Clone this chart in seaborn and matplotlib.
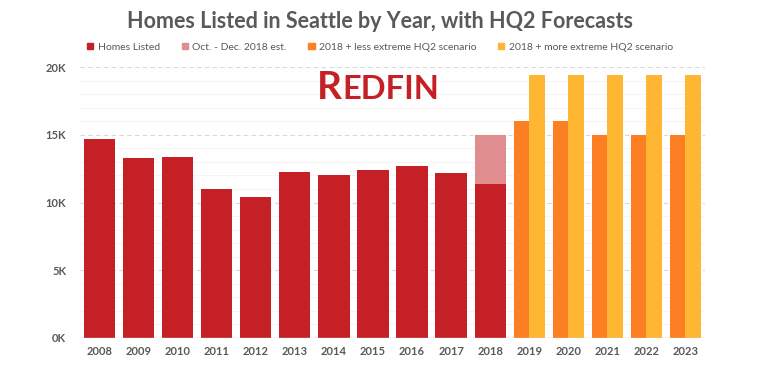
import pandas as pd
import seaborn as sns
import matplotlib.pyplot as plt
from matplotlib.patches import Patch
from matplotlib.ticker import MultipleLocator, FuncFormatter

# values
years = [str(y) for y in range(2008, 2024)]
hist_years = years[:11]
homes_listed = [14700, 13250, 13330, 10970, 10400, 12230, 12000, 12370, 12690, 12180, 11340]
est_year = ["2018"]
est_2018 = [15000]
fc_years = years[11:]
less_extreme = [16000, 16000, 15000, 15000, 15000]
more_extreme = [19400, 19400, 19400, 19400, 19400]

red = "#C52026"
pink = "#E08D8F"
orange = "#FC7F24"
yellow = "#FFB733"
gray = "#595959"

labels = ["Homes Listed", "Oct. - Dec. 2018 est.",
          "2018 + less extreme HQ2 scenario", "2018 + more extreme HQ2 scenario"]

fc = pd.DataFrame({
    "year": fc_years * 2,
    "value": less_extreme + more_extreme,
    "scenario": [labels[2]] * len(fc_years) + [labels[3]] * len(fc_years),
})

sns.set_theme(style="white")
plt.rcParams["font.family"] = ["Lato", "DejaVu Sans"]

fig = plt.figure(figsize=(7.68, 3.71), dpi=100)
ax = fig.add_axes([80 / 768, 1 - 338 / 371, 625 / 768, 271 / 371])

# grid first so bars sit on top
ax.set_axisbelow(True)
ax.yaxis.set_major_locator(MultipleLocator(5000))
ax.yaxis.set_minor_locator(MultipleLocator(1000))
ax.grid(which="major", axis="y", color="#D9D9D9", linestyle=(0, (4, 3)), linewidth=0.8)
ax.grid(which="minor", axis="y", color="#F3F3F3", linestyle="-", linewidth=0.6)

sns.barplot(x=est_year, y=est_2018, order=years, color=pink, width=0.8,
            saturation=1, errorbar=None, linewidth=0, ax=ax)
sns.barplot(x=hist_years, y=homes_listed, order=years, color=red, width=0.8,
            saturation=1, errorbar=None, linewidth=0, ax=ax)
sns.barplot(data=fc, x="year", y="value", hue="scenario", order=years,
            palette=[orange, yellow], width=0.8, dodge=True, saturation=1,
            errorbar=None, legend=False, linewidth=0, ax=ax)

ax.set_ylim(0, 20000)
ax.set_xlim(-0.5, 15.5)
ax.set_xlabel("")
ax.set_ylabel("")
ax.yaxis.set_major_formatter(FuncFormatter(lambda v, p: f"{int(v / 1000)}K"))
ax.tick_params(axis="both", length=0, labelsize=8, labelcolor=gray)
ax.tick_params(axis="y", pad=10)
ax.tick_params(axis="x", pad=6)
for lab in ax.get_xticklabels() + ax.get_yticklabels():
    lab.set_fontweight("bold")
for s in ax.spines.values():
    s.set_visible(False)
ax.axhline(0, color="#D0D0D0", linewidth=1)

fig.text(380 / 768, 1 - 22 / 371, "Homes Listed in Seattle by Year, with HQ2 Forecasts",
         ha="center", va="center", fontsize=15.5, fontweight="bold", color=gray)

handles = [Patch(color=c) for c in [red, pink, orange, yellow]]
fig.legend(handles, labels, ncol=4, loc="center",
           bbox_to_anchor=(380 / 768, 1 - 47 / 371), frameon=False, fontsize=7.5,
           labelcolor=gray, handlelength=0.6, handleheight=0.6,
           handletextpad=0.4, columnspacing=2.1)

# Redfin wordmark, small caps
r = fig.text(317 / 768, 1 - 99 / 371, "R", ha="left", va="baseline",
             fontsize=28, fontweight="bold", color=red)
fig.canvas.draw()
bb = r.get_window_extent()
fig.text(bb.x1 / fig.bbox.width, 1 - 99 / 371, "EDFIN", ha="left", va="baseline",
         fontsize=23.5, fontweight="bold", color=red)

fig.savefig("out.png", dpi=100)
